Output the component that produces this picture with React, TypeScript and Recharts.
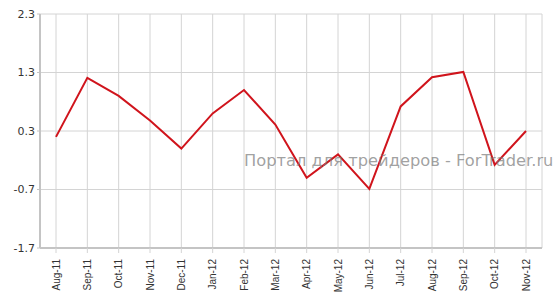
import { LineChart, Line, XAxis, YAxis, CartesianGrid } from 'recharts';

const months = [
  'Aug-11', 'Sep-11', 'Oct-11', 'Nov-11', 'Dec-11', 'Jan-12', 'Feb-12', 'Mar-12',
  'Apr-12', 'May-12', 'Jun-12', 'Jul-12', 'Aug-12', 'Sep-12', 'Oct-12', 'Nov-12',
];
const values = [0.2, 1.21, 0.9, 0.48, 0.0, 0.6, 1.0, 0.41, -0.5, -0.1, -0.69, 0.72, 1.22, 1.31, -0.28, 0.3];
const yTicks = [-1.7, -0.7, 0.3, 1.3, 2.3];

const chartData = months.map((month, i) => ({ month, value: values[i] }));

const XTick = (props: any) => {
  const { x, y, payload } = props;
  return (
    <text
      x={x}
      y={y + 4}
      transform={`rotate(-90, ${x}, ${y + 4})`}
      textAnchor="end"
      dominantBaseline="central"
      fontSize={10}
      fontFamily="'Liberation Sans', Arial, sans-serif"
      fill="#333"
    >
      {payload.value}
    </text>
  );
};

export default function App() {
  return (
    <div style={{ position: 'absolute', left: 0, top: 0, width: 559, height: 307, background: '#fff' }}>
      <LineChart width={559} height={307} data={chartData} margin={{ top: 14, right: 17, left: 0, bottom: 0 }}>
        <CartesianGrid stroke="#d4d4d4" strokeWidth={1} />
        <XAxis
          dataKey="month"
          interval={0}
          padding={{ left: 16, right: 16 }}
          height={59}
          tick={<XTick />}
          tickSize={5}
          tickLine={{ stroke: '#d4d4d4' }}
          axisLine={{ stroke: '#c4c4c4', strokeWidth: 2 }}
        />
        <YAxis
          domain={[-1.7, 2.3]}
          ticks={yTicks}
          width={40}
          tickSize={3}
          tickLine={{ stroke: '#c4c4c4' }}
          axisLine={{ stroke: '#c4c4c4', strokeWidth: 2 }}
          tick={{ fontSize: 11, fontFamily: "'DejaVu Sans', Verdana, sans-serif", fill: '#333' }}
        />
        <Line
          type="linear"
          dataKey="value"
          stroke="#d0141c"
          strokeWidth={2}
          dot={false}
          isAnimationActive={false}
        />
      </LineChart>
      <div
        style={{
          position: 'absolute',
          left: 244,
          top: 151,
          fontFamily: "'DejaVu Sans', Verdana, sans-serif",
          fontSize: 16.3,
          color: 'rgba(120,120,120,0.7)',
          whiteSpace: 'nowrap',
          lineHeight: '20px',
        }}
      >
        Портал для трейдеров - ForTrader.ru
      </div>
    </div>
  );
}
